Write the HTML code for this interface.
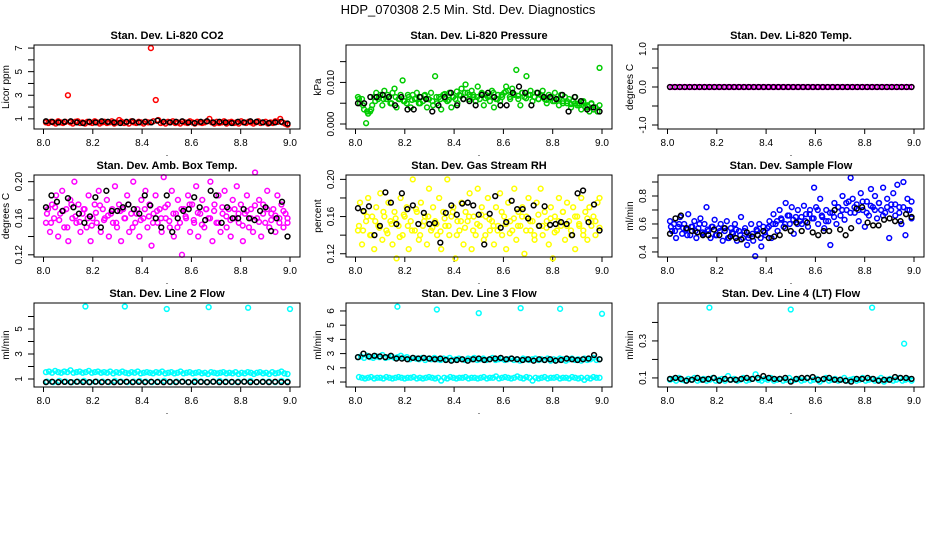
<!DOCTYPE html>
<html><head><meta charset="utf-8"><style>
html,body{margin:0;padding:0;background:#fff}
svg{display:block;font-family:"Liberation Sans",sans-serif}
</style></head><body>
<svg id="chart" width="936" height="540" viewBox="0 0 936 540">
<text x="468" y="14" text-anchor="middle" font-size="13">HDP_070308  2.5 Min. Std. Dev. Diagnostics</text>
</svg>
<script>
// ---------- data ----------
const xTicks=[8.0,8.2,8.4,8.6,8.8,9.0];
const xTickLabels=["8.0","8.2","8.4","8.6","8.8","9.0"];

const co2Red=[0.7,0.65,0.75,0.7,0.6,0.8,0.7,0.65,0.75,3.0,0.7,0.6,0.75,0.8,0.65,0.7,0.6,0.75,0.7,0.65,
0.8,0.7,0.6,0.7,0.75,0.65,0.7,0.8,0.6,0.7,0.9,0.75,0.65,0.7,0.6,0.8,0.7,0.65,0.75,0.7,
0.6,0.75,0.7,7.0,0.8,2.6,0.9,0.65,0.7,0.6,0.75,0.7,0.8,0.65,0.7,0.6,0.75,0.7,0.65,0.8,
0.7,0.6,0.75,0.7,0.65,0.7,0.8,1.0,0.7,0.6,0.75,0.65,0.7,0.8,0.6,0.7,0.75,0.65,0.7,0.6,
0.8,0.7,0.65,0.75,0.7,0.6,0.7,0.8,0.65,0.7,0.75,0.6,0.7,0.65,0.8,0.75,1.0,0.7,0.6,0.5];
const co2Black=[0.8,0.75,0.7,0.75,0.8,0.7,0.65,0.75,0.7,0.8,0.75,0.7,0.65,0.75,0.8,0.7,0.75,0.7,0.85,0.75,0.7,0.75,0.8,0.7,0.65,0.75,0.8,0.7,0.75,0.7,0.65,0.75,0.7,0.8,0.75,0.7,0.65,0.7,0.75,0.6];

const presGreen=[0.0065,0.005,0.006,0.0035,0.0002,0.0025,0.003,0.0045,0.0065,0.0075,0.006,
0.007,0.0045,0.008,0.006,0.0065,0.005,0.0075,0.0085,0.004,0.006,0.007,0.0105,0.0055,0.005,0.0065,0.004,0.007,0.006,0.0075,0.005,
0.0065,0.0055,0.007,0.004,0.006,0.0075,0.0045,0.0115,0.005,0.0065,0.0035,0.007,0.006,0.0055,0.0075,0.004,0.0065,0.006,0.005,0.007,
0.0085,0.006,0.0095,0.0075,0.007,0.008,0.0065,0.0055,0.009,0.006,0.0075,0.0045,0.007,0.0065,0.0055,0.008,0.004,0.006,0.007,0.0055,
0.0065,0.0075,0.009,0.008,0.006,0.0085,0.007,0.013,0.006,0.0045,0.0075,0.0065,0.0115,0.007,0.008,0.0055,0.0065,0.0075,0.006,0.007,
0.008,0.006,0.005,0.007,0.0065,0.0055,0.0075,0.006,0.0045,0.007,0.0055,0.0065,0.005,0.006,0.004,0.0055,0.0065,0.0045,0.005,0.0035,0.0055,0.004,0.0045,0.003,0.005,0.0035,0.004,0.003,0.0135];
const presGreen2=[0.006,0.0045,0.003,0.0035,0.0055,0.0065,0.006,0.007,0.005,0.0065,0.006,0.0055,0.007,0.0058,0.0062,0.005,0.0068,0.006,0.0055,0.0065,0.006,0.0072,0.0058,0.0065,0.0078,0.0068,0.0075,0.006,0.007,0.0065,0.0072,0.0062,0.0068,0.0075,0.006,0.007,0.0078,0.0065,0.0072,0.0068,0.0075,0.0062,0.007,0.0065,0.006,0.0068,0.0058,0.0062,0.0055,0.006,0.005,0.0055,0.0048,0.005,0.0045,0.0052,0.0042,0.0048,0.004,0.0045];
const presBlack=[0.005,0.005,0.0065,0.0065,0.007,0.0065,0.0045,0.0065,0.0035,0.0035,0.0065,0.006,0.003,0.0045,0.0065,0.0075,0.0045,0.006,0.0055,0.0045,0.007,0.0075,0.0065,0.0045,0.0045,0.0075,0.009,0.0075,0.0045,0.0075,0.0065,0.0065,0.006,0.007,0.003,0.0065,0.0055,0.0035,0.004,0.003];

const tempMagenta=[0,0,0,0,0,0,0,0,0,0,0,0,0,0,0,0,0,0,0,0,0,0,0,0,0,0,0,0,0,0,0,0,0,0,0,0,0,0,0,0,0,0,0,0,0,0,0,0,0,0,0,0,0,0,0,0,0,0,0,0,0,0,0,0,0,0,0,0,0,0,0,0,0,0,0,0,0,0,0,0,0,0,0,0,0,0,0,0,0,0,0,0,0,0,0,0,0,0,0,0];
const tempBlack=[0,0,0,0,0,0,0,0,0,0,0,0,0,0,0,0,0,0,0,0,0,0,0,0,0,0,0,0,0,0,0,0,0,0,0,0,0,0,0,0,0,0,0,0,0,0,0,0,0,0];

const ambMagenta=[0.155,0.17,0.145,0.175,0.16,0.185,0.14,0.165,0.19,0.15,0.17,0.135,0.18,0.16,0.2,0.155,0.175,0.145,0.165,0.17,
0.15,0.185,0.135,0.16,0.175,0.155,0.19,0.145,0.17,0.16,0.18,0.14,0.165,0.155,0.195,0.15,0.175,0.135,0.17,0.16,
0.185,0.145,0.165,0.2,0.155,0.17,0.14,0.18,0.16,0.19,0.15,0.175,0.13,0.165,0.185,0.155,0.17,0.145,0.205,0.16,
0.175,0.15,0.19,0.14,0.165,0.18,0.155,0.12,0.17,0.16,0.185,0.145,0.175,0.155,0.195,0.14,0.165,0.18,0.15,0.17,
0.16,0.2,0.135,0.175,0.155,0.185,0.145,0.165,0.19,0.15,0.17,0.14,0.18,0.16,0.195,0.155,0.175,0.135,0.165,0.185,
0.15,0.17,0.145,0.21,0.16,0.18,0.14,0.175,0.155,0.19,0.15,0.165,0.17,0.145,0.185,0.16,0.175,0.15,0.165,0.155];
const ambMagenta2=[0.165,0.155,0.172,0.158,0.168,0.15,0.175,0.162,0.156,0.17,0.16,0.152,0.166,0.174,0.158,0.163,0.17,0.155,0.168,0.16,0.175,0.15,0.165,0.158,0.17,0.162,0.155,0.168,0.16,0.172,0.157,0.165,0.15,0.17,0.162,0.175,0.158,0.166,0.153,0.17,0.16,0.168,0.155,0.172,0.162,0.158,0.17,0.165,0.152,0.168,0.16,0.174,0.156,0.165,0.17,0.158,0.163,0.155,0.168,0.16];
const ambBlack=[0.172,0.185,0.178,0.168,0.182,0.172,0.165,0.155,0.162,0.183,0.15,0.19,0.168,0.168,0.172,0.175,0.17,0.165,0.185,0.174,0.16,0.15,0.185,0.145,0.16,0.168,0.17,0.183,0.172,0.158,0.19,0.185,0.155,0.172,0.16,0.16,0.17,0.16,0.158,0.168,0.172,0.146,0.16,0.178,0.14];

const rhYellow=[0.145,0.175,0.13,0.165,0.155,0.18,0.14,0.16,0.125,0.17,0.15,0.185,0.135,0.16,0.145,0.175,0.155,0.13,0.165,0.115,
0.15,0.18,0.14,0.16,0.17,0.125,0.155,0.2,0.145,0.165,0.135,0.175,0.15,0.16,0.13,0.19,0.145,0.17,0.155,0.14,
0.18,0.125,0.165,0.15,0.2,0.14,0.16,0.17,0.115,0.155,0.145,0.175,0.13,0.165,0.155,0.185,0.125,0.16,0.14,0.19,
0.15,0.17,0.135,0.16,0.18,0.145,0.155,0.13,0.17,0.15,0.185,0.14,0.16,0.125,0.175,0.155,0.145,0.19,0.135,0.165,
0.15,0.17,0.12,0.16,0.18,0.145,0.155,0.135,0.175,0.15,0.19,0.14,0.165,0.155,0.13,0.17,0.115,0.16,0.145,0.18,
0.15,0.165,0.135,0.175,0.155,0.14,0.17,0.125,0.16,0.15,0.18,0.145,0.165,0.135,0.17,0.155,0.16,0.14,0.175,0.18];
const rhYellow2=[0.15,0.145,0.16,0.14,0.155,0.148,0.165,0.142,0.152,0.158,0.138,0.162,0.15,0.145,0.168,0.14,0.155,0.16,0.148,0.152,0.144,0.158,0.15,0.165,0.14,0.155,0.148,0.16,0.145,0.152,0.162,0.14,0.157,0.15,0.145,0.165,0.152,0.142,0.158,0.15,0.16,0.145,0.155,0.14,0.162,0.15,0.148,0.158,0.143,0.155,0.165,0.15,0.145,0.16,0.152,0.14,0.158,0.15,0.155,0.148];
const rhBlack=[0.169,0.166,0.171,0.14,0.15,0.186,0.175,0.152,0.185,0.168,0.172,0.152,0.164,0.152,0.153,0.132,0.164,0.172,0.162,0.174,0.175,0.172,0.162,0.13,0.163,0.182,0.148,0.154,0.177,0.168,0.168,0.158,0.172,0.15,0.171,0.151,0.152,0.154,0.152,0.14,0.185,0.188,0.154,0.173,0.145];

const flowBlue=[0.62,0.55,0.6,0.5,0.58,0.65,0.53,0.6,0.56,0.67,0.52,0.58,0.62,0.5,0.57,0.64,0.54,0.6,0.72,0.55,
0.5,0.58,0.63,0.52,0.57,0.6,0.48,0.55,0.62,0.5,0.57,0.53,0.6,0.48,0.55,0.65,0.5,0.57,0.45,0.52,
0.6,0.48,0.37,0.55,0.6,0.44,0.58,0.52,
0.57,0.62,0.5,0.67,0.6,0.55,0.7,0.63,0.58,0.75,0.66,0.6,0.72,0.53,0.65,0.7,0.62,0.6,0.73,0.67,0.58,0.7,0.64,0.86,
0.72,0.6,0.78,0.65,0.57,0.7,0.62,0.45,0.68,0.75,0.6,0.72,0.66,0.8,0.63,0.7,0.76,0.93,
0.78,0.68,0.74,0.62,0.82,0.7,0.58,0.76,0.66,0.85,0.72,0.8,0.64,0.75,0.7,0.86,0.68,0.78,0.5,0.74,0.82,0.66,0.88,0.72,0.6,0.9,0.52,0.78,0.7,0.64];
const flowBlue2=[0.58,0.55,0.6,0.57,0.52,0.58,0.55,0.6,0.53,0.56,0.58,0.52,0.55,0.57,0.5,0.54,0.56,0.52,0.55,0.5,0.53,0.56,0.5,0.54,0.58,0.6,0.62,0.64,0.6,0.66,0.63,0.6,0.65,0.62,0.67,0.64,0.7,0.66,0.62,0.68,0.65,0.72,0.7,0.75,0.68,0.72,0.7,0.76,0.68,0.73,0.7,0.75,0.66,0.72,0.7,0.74,0.68,0.72,0.7,0.76];
const flowBlack=[0.53,0.64,0.66,0.57,0.55,0.54,0.52,0.52,0.56,0.52,0.57,0.51,0.5,0.49,0.54,0.51,0.52,0.55,0.5,0.51,0.52,0.57,0.55,0.61,0.55,0.61,0.54,0.52,0.55,0.55,0.7,0.56,0.52,0.57,0.71,0.72,0.61,0.59,0.59,0.63,0.64,0.62,0.62,0.67,0.65];

const line2CyanHigh=[1.55,1.6,1.5,1.65,1.55,1.5,1.6,1.55,1.7,1.5,1.55,1.6,1.5,1.55,1.65,1.5,1.55,1.6,1.5,1.55,
1.5,1.6,1.45,1.55,1.5,1.6,1.5,1.45,1.55,1.5,1.6,1.45,1.5,1.55,1.5,1.45,1.55,1.5,1.6,1.45,
1.5,1.55,1.45,1.5,1.6,1.45,1.5,1.55,1.45,1.5,1.55,1.45,1.5,1.4,1.55,1.5,1.45,1.5,1.55,1.45,
1.5,1.45,1.55,1.4,1.5,1.45,1.55,1.5,1.4,1.5,1.55,1.45,1.5,1.4,1.55,1.45,1.5,1.6,1.45,1.4];
const line2CyanLow=[0.8,0.75,0.85,0.8,0.75,0.8,0.85,0.75,0.8,0.8,0.75,0.85,0.8,0.75,0.8,0.85,0.8,0.75,0.8,0.85,0.75,0.8,0.8,0.75,0.85,0.8,0.75,0.8,0.85,0.8,0.75,0.8,0.8,0.85,0.75,0.8,0.8,0.75,0.85,0.8];
const line2OutX=[8.17,8.33,8.5,8.67,8.83,9.0];
const line2OutY=[6.8,6.8,6.6,6.75,6.7,6.6];
const line2Black=[0.75,0.78,0.75,0.77,0.75,0.78,0.76,0.75,0.78,0.75,0.77,0.75,0.76,0.78,0.75,0.77,0.75,0.78,0.76,0.75,0.77,0.75,0.78,0.75,0.76,0.77,0.75,0.78,0.75,0.76,0.77,0.75,0.78,0.75,0.76,0.77,0.75,0.78,0.76,0.75];

const line3CyanHigh=[2.75,2.8,2.7,2.85,2.75,2.7,2.8,2.75,2.9,2.7,2.75,2.8,2.7,2.75,2.85,2.7,2.75,2.6,2.7,2.65,
2.6,2.7,2.55,2.65,2.6,2.7,2.6,2.55,2.65,2.6,2.7,2.55,2.6,2.65,2.6,2.55,2.65,2.6,2.7,2.55,
2.6,2.65,2.55,2.6,2.7,2.55,2.6,2.65,2.55,2.6,2.65,2.55,2.6,2.5,2.65,2.6,2.55,2.6,2.65,2.55,
2.6,2.55,2.65,2.5,2.6,2.55,2.65,2.6,2.5,2.6,2.65,2.55,2.6,2.5,2.65,2.55,2.6,2.7,2.55,2.6];
const line3CyanLow=[1.35,1.3,1.25,1.3,1.35,1.25,1.3,1.3,1.25,1.35,1.3,1.25,1.3,1.35,1.3,1.25,1.3,1.3,1.35,1.25,
1.3,1.25,1.3,1.35,1.3,1.25,1.3,1.1,1.3,1.25,1.35,1.3,1.25,1.3,1.3,1.35,1.25,1.3,1.3,1.25,
1.3,1.35,1.25,1.3,1.3,1.4,1.25,1.3,1.35,1.3,1.25,1.3,1.4,1.3,1.25,1.35,1.3,1.1,1.3,1.25,
1.3,1.35,1.25,1.3,1.3,1.35,1.25,1.3,1.3,1.25,1.35,1.3,1.25,1.3,1.15,1.3,1.25,1.35,1.3,1.3];
const line3OutX=[8.17,8.33,8.5,8.67,8.83,9.0];
const line3OutY=[6.3,6.1,5.85,6.2,6.15,5.8];
const line3Black=[2.75,3.0,2.8,2.85,2.8,2.75,2.85,2.65,2.65,2.6,2.7,2.65,2.7,2.65,2.6,2.65,2.55,2.5,2.55,2.6,2.5,2.6,2.65,2.55,2.6,2.65,2.7,2.6,2.65,2.6,2.55,2.6,2.5,2.6,2.55,2.6,2.5,2.55,2.65,2.6,2.55,2.6,2.65,2.9,2.6];

const line4Cyan=[0.09,0.095,0.085,0.1,0.09,0.085,0.095,0.09,0.1,0.085,0.09,0.095,0.085,0.09,0.1,0.085,0.09,0.095,0.085,0.11,
0.09,0.095,0.085,0.09,0.1,0.085,0.09,0.095,0.12,0.09,0.085,0.095,0.09,0.1,0.085,0.09,0.095,0.085,0.09,0.1,
0.085,0.09,0.095,0.085,0.09,0.1,0.085,0.09,0.095,0.08,0.09,0.1,0.085,0.09,0.095,0.085,0.09,0.1,0.085,0.09,
0.095,0.085,0.09,0.1,0.085,0.09,0.095,0.085,0.09,0.1,0.08,0.09,0.095,0.085,0.09,0.1,0.085,0.09,0.095,0.085];
const line4OutX=[8.17,8.5,8.83,8.96];
const line4OutY=[0.48,0.47,0.48,0.285];
const line4Black=[0.095,0.1,0.095,0.085,0.09,0.1,0.09,0.095,0.1,0.085,0.095,0.09,0.09,0.095,0.1,0.095,0.1,0.11,0.1,0.095,0.095,0.1,0.08,0.095,0.1,0.1,0.105,0.09,0.095,0.1,0.09,0.09,0.085,0.08,0.095,0.095,0.1,0.095,0.085,0.09,0.09,0.105,0.1,0.1,0.095];

// ---------- drawing ----------
const NS="http://www.w3.org/2000/svg";
const svg=document.getElementById('chart');
const rowTop=[45,175,303], rowBot=[129,257,387];
function mk(tag,attrs,parent){const e=document.createElementNS(NS,tag);for(const k in attrs)e.setAttribute(k,attrs[k]);(parent||svg).appendChild(e);return e;}

function panel(cfg){
  const left=34+312*cfg.col, right=left+266, top=rowTop[cfg.row], bot=rowBot[cfg.row];
  const g=mk('g',{});
  
  
  const xs=v=>left+9.5+(v-8)*246.5;
  const ys=v=>bot-(v-cfg.ymin)/(cfg.ymax-cfg.ymin)*(bot-top);
  const t=mk('text',{x:(left+right)/2,y:top-6,'text-anchor':'middle','font-size':11,'font-weight':'bold'},g);
  t.textContent=cfg.title;
  
  
  xTicks.forEach((v,i)=>{
    mk('line',{x1:xs(v),x2:xs(v),y1:bot,y2:bot+5,stroke:'#000','stroke-width':1},g);
    const l=mk('text',{x:xs(v),y:bot+17,'text-anchor':'middle','font-size':10},g);
    l.textContent=xTickLabels[i];
    
    
  });
  cfg.yticks.forEach((v,i)=>{
    const y=ys(v);
    mk('line',{x1:left-6,x2:left,y1:y,y2:y,stroke:'#000','stroke-width':1},g);
    if(cfg.ylabels[i]){
      const l=mk('text',{x:left-12,y:y,'text-anchor':'middle','font-size':10,transform:`rotate(-90 ${left-12} ${y})`},g);
      l.textContent=cfg.ylabels[i];
      
      
    }
  });
  const yt=mk('text',{x:left-25,y:(top+bot)/2,'text-anchor':'middle','font-size':10,transform:`rotate(-90 ${left-25} ${(top+bot)/2})`},g);
  yt.textContent=cfg.ylab;
  
  
  const xt=mk('text',{x:(left+right)/2,y:bot+27,'text-anchor':'middle','font-size':9},g);
  xt.textContent='.';
  const drawSeries=(vals,color,name,off)=>{
    const n=vals.length;
    vals.forEach((v,i)=>{
      const x=8.01+off+i/(n-1)*(0.98-off);
      const c=mk('circle',{cx:xs(x),cy:ys(v),r:2.4,fill:'none',stroke:color,'stroke-width':1.5},g);
      
      
    });
  };
  const drawXY=(xa,ya,color,name)=>{
    xa.forEach((x,i)=>{
      const c=mk('circle',{cx:xs(x),cy:ys(ya[i]),r:2.4,fill:'none',stroke:color,'stroke-width':1.5},g);
      
      
    });
  };
  cfg.series.forEach((s,k)=>drawSeries(s,cfg.color,'data-point',k*0.004));
  if(cfg.outX) drawXY(cfg.outX,cfg.outY,cfg.color,'outlier-point');
  drawSeries(cfg.black,'#000','reference-point',0);
  const box=mk('rect',{x:left,y:top,width:right-left,height:bot-top,fill:'none',stroke:'#000','stroke-width':1},g);
  
  
}

panel({name:'co2-panel',col:0,row:0,title:'Stan. Dev. Li-820 CO2',ylab:'Licor ppm',color:'#ff0000',ymin:0.14,ymax:7.26,
  yticks:[1,2,3,4,5,6,7],ylabels:['1','','3','','5','','7'],series:[co2Red],black:co2Black});
panel({name:'pressure-panel',col:1,row:0,title:'Stan. Dev. Li-820 Pressure',ylab:'kPa',color:'#00cc00',ymin:-0.0012,ymax:0.019,
  yticks:[0,0.005,0.01,0.015],ylabels:['0.000','','0.010',''],series:[presGreen,presGreen2],black:presBlack});
panel({name:'licor-temp-panel',col:2,row:0,title:'Stan. Dev. Li-820 Temp.',ylab:'degrees C',color:'#ff00ff',ymin:-1.105,ymax:1.105,
  yticks:[-1,-0.5,0,0.5,1],ylabels:['-1.0','','0.0','','1.0'],series:[tempMagenta],black:tempBlack});
panel({name:'amb-box-temp-panel',col:0,row:1,title:'Stan. Dev. Amb. Box Temp.',ylab:'degrees C',color:'#ff00ff',ymin:0.1176,ymax:0.2073,
  yticks:[0.12,0.14,0.16,0.18,0.2],ylabels:['0.12','','0.16','','0.20'],series:[ambMagenta,ambMagenta2],black:ambBlack});
panel({name:'gas-rh-panel',col:1,row:1,title:'Stan. Dev. Gas Stream RH',ylab:'percent',color:'#ffff00',ymin:0.1165,ymax:0.2047,
  yticks:[0.12,0.14,0.16,0.18,0.2],ylabels:['0.12','','0.16','','0.20'],series:[rhYellow,rhYellow2],black:rhBlack});
panel({name:'sample-flow-panel',col:2,row:1,title:'Stan. Dev. Sample Flow',ylab:'ml/min',color:'#0000ff',ymin:0.364,ymax:0.95,
  yticks:[0.4,0.5,0.6,0.7,0.8,0.9],ylabels:['0.4','','0.6','','0.8',''],series:[flowBlue,flowBlue2],black:flowBlack});
panel({name:'line2-flow-panel',col:0,row:2,title:'Stan. Dev. Line 2 Flow',ylab:'ml/min',color:'#00ffff',ymin:0.36,ymax:7.08,
  yticks:[1,2,3,4,5,6],ylabels:['1','','3','','5',''],series:[line2CyanHigh,line2CyanLow],outX:line2OutX,outY:line2OutY,black:line2Black});
panel({name:'line3-flow-panel',col:1,row:2,title:'Stan. Dev. Line 3 Flow',ylab:'ml/min',color:'#00ffff',ymin:0.65,ymax:6.56,
  yticks:[1,2,3,4,5,6],ylabels:['1','2','3','4','5','6'],series:[line3CyanHigh,line3CyanLow],outX:line3OutX,outY:line3OutY,black:line3Black});
panel({name:'line4-flow-panel',col:2,row:2,title:'Stan. Dev. Line 4 (LT) Flow',ylab:'ml/min',color:'#00ffff',ymin:0.051,ymax:0.505,
  yticks:[0.1,0.2,0.3,0.4],ylabels:['0.1','','0.3',''],series:[line4Cyan],outX:line4OutX,outY:line4OutY,black:line4Black});
</script>
</body></html>
